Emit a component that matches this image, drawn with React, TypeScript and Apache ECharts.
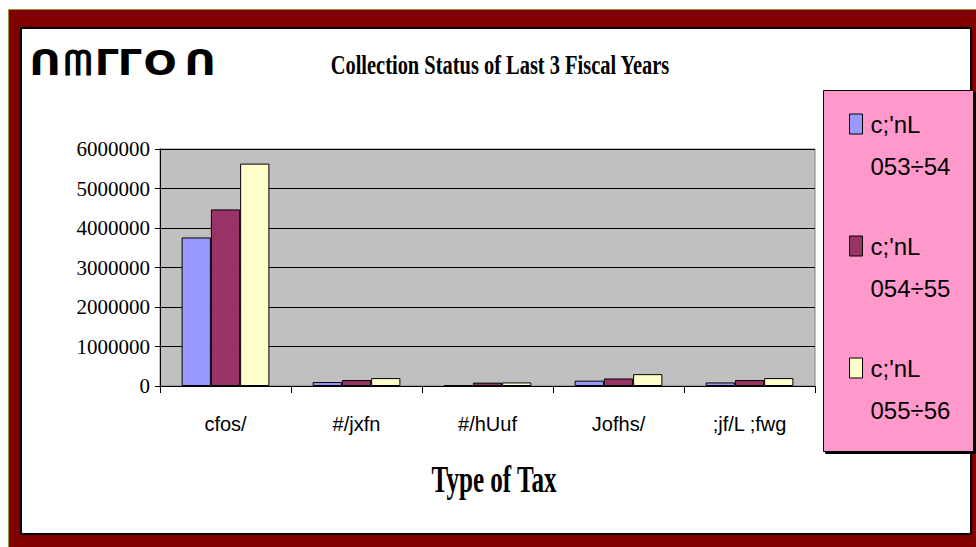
import React, { useEffect, useRef } from "react";
import * as echarts from "echarts";

const categories = ["cfos/", "#/jxfn", "#/hUuf", "Jofhs/", ";jf/L ;fwg"];
const seriesNames = ["c;'nL\n053÷54", "c;'nL\n054÷55", "c;'nL\n055÷56"];
const fy5354 = [3760000, 100000, 25000, 135000, 90000];
const fy5455 = [4470000, 150000, 85000, 190000, 150000];
const fy5556 = [5630000, 200000, 90000, 300000, 200000];
const seriesColors = ["#9999FF", "#993366", "#FFFFCC"];
const titleText = "Collection Status of Last 3 Fiscal Years";
const xAxisTitle = "Type of Tax";
const cornerGlyphs = ["ᑎ", "ᗰ", "ᒥ", "ᒥ", "O", "ᑎ"];
const cornerGlyphX = [45, 78, 107, 130, 160, 200];

export default function App() {
  const ref = useRef<HTMLDivElement>(null);
  useEffect(() => {
    if (!ref.current) return;
    const chart = echarts.init(ref.current, undefined, { renderer: "svg" });
    const values = [fy5354, fy5455, fy5556];
    const graphics: any[] = [
      {
        type: "rect",
        z: -10,
        silent: true,
        shape: { x: 8.5, y: 9.5, width: 980, height: 560 },
        style: { fill: "#800000", stroke: "#999933", lineWidth: 1 },
      },
      {
        type: "rect",
        z: -9,
        silent: true,
        shape: { x: 21, y: 28, width: 950, height: 506 },
        style: { fill: "#ffffff", stroke: "#000000", lineWidth: 2 },
      },
      {
        type: "rect",
        z: 3,
        silent: true,
        shape: { x: 823.5, y: 90.5, width: 150, height: 361 },
        style: {
          fill: "#FF99CC",
          stroke: "#000000",
          lineWidth: 1,
          shadowColor: "#000000",
          shadowOffsetX: 2,
          shadowOffsetY: 2,
          shadowBlur: 0,
        },
      },
      {
        type: "text",
        z: 5,
        x: 500,
        y: 64,
        scaleX: 0.73,
        style: {
          text: titleText,
          font: 'bold 28px "Liberation Serif"',
          fill: "#000",
          textAlign: "center",
          align: "center",
          textVerticalAlign: "middle",
          verticalAlign: "middle",
        },
      },
      {
        type: "text",
        z: 5,
        x: 494,
        y: 479,
        scaleX: 0.66,
        style: {
          text: xAxisTitle,
          font: 'bold 38px "Liberation Serif"',
          fill: "#000",
          textAlign: "center",
          align: "center",
          textVerticalAlign: "middle",
          verticalAlign: "middle",
        },
      },
      ...cornerGlyphs.map((g, i) => ({
        type: "text",
        z: 5,
        x: cornerGlyphX[i],
        y: 63,
        scaleX: 1.15,
        style: {
          text: g,
          font: 'bold 34px "DejaVu Sans"',
          fill: "#000",
          textAlign: "center",
          align: "center",
          textVerticalAlign: "middle",
          verticalAlign: "middle",
        },
      })),
    ];
    chart.setOption({
      animation: false,
      graphic: graphics,
      grid: {
        left: 160,
        top: 149,
        width: 655,
        height: 237,
        show: true,
        backgroundColor: "#C0C0C0",
        borderColor: "#808080",
        borderWidth: 1,
        containLabel: false,
      },
      legend: {
        orient: "vertical",
        left: 849,
        top: 61,
        padding: 0,
        itemGap: -4,
        itemWidth: 13,
        itemHeight: 20,
        icon: "rect",
        selectedMode: false,
        formatter: (name: string) => "\n" + name,
        itemStyle: { borderColor: "#000", borderWidth: 1 },
        textStyle: {
          fontFamily: "Liberation Sans",
          fontSize: 24,
          lineHeight: 42,
          color: "#000",
          padding: [0, 0, 0, 3],
        },
        data: seriesNames,
      },
      xAxis: {
        type: "category",
        data: categories,
        axisLine: { show: true, lineStyle: { color: "#000", width: 1 } },
        axisTick: { show: true, length: 7, lineStyle: { color: "#000" } },
        axisLabel: {
          margin: 28,
          fontFamily: "Liberation Sans",
          fontSize: 20,
          color: "#000",
          interval: 0,
        },
      },
      yAxis: {
        type: "value",
        min: 0,
        max: 6000000,
        interval: 1000000,
        axisLine: { show: true, lineStyle: { color: "#000" } },
        axisTick: { show: true, length: 5, lineStyle: { color: "#000" } },
        splitLine: { show: true, lineStyle: { color: "#000", width: 1 } },
        axisLabel: {
          margin: 10,
          fontFamily: "Liberation Serif",
          fontSize: 21,
          color: "#000",
          formatter: (v: number) => String(v),
        },
      },
      series: seriesNames.map((name, i) => ({
        name,
        type: "bar",
        data: values[i],
        barGap: "0%",
        barCategoryGap: "33%",
        itemStyle: {
          color: seriesColors[i],
          borderColor: "#000",
          borderWidth: 1,
        },
      })),
    });
    return () => chart.dispose();
  }, []);
  return (
    <div
      ref={ref}
      style={{ position: "absolute", left: 0, top: 0, width: 976, height: 547 }}
    />
  );
}
